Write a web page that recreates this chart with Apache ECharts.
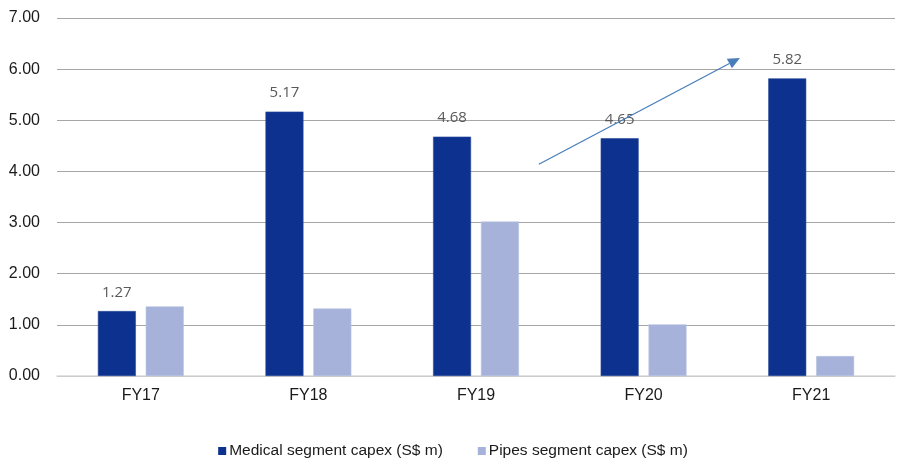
<!DOCTYPE html>
<html>
<head>
<meta charset="utf-8">
<script src="https://cdn.jsdelivr.net/npm/echarts@6/dist/echarts.min.js"></script>
<style>
  html, body { margin: 0; padding: 0; background: #fff; }
  #chart { width: 906px; height: 461px; }
</style>
</head>
<body>
<div id="chart"></div>
<script>
// Capex by segment, FY17–FY21
const years = ['FY17', 'FY18', 'FY19', 'FY20', 'FY21'];
const medicalCapex = [1.27, 5.17, 4.68, 4.65, 5.82];
const pipesCapex = [1.36, 1.32, 3.02, 1.01, 0.39];
const yTicks = [0, 1, 2, 3, 4, 5, 6, 7];

// Trend arrow: [category index, offset within band, value]
const arrowFrom = [2, 0.375, 4.14];
const arrowTo = [3, 0.575, 6.22];

const chart = echarts.init(document.getElementById('chart'));

chart.setOption({
  animation: false,
  grid: { left: 57, right: 11, top: 18, bottom: 85 },
  legend: {
    top: 438,
    left: 'center',
    itemWidth: 8,
    itemHeight: 8,
    itemGap: 35,
    icon: 'rect',
    itemStyle: { borderWidth: 0 },
    textStyle: { fontFamily: 'Liberation Sans', fontSize: 15.5, color: '#1a1a1a', padding: [0, 0, 0, -2] },
    data: ['Medical segment capex (S$ m)', 'Pipes segment capex (S$ m)']
  },
  xAxis: {
    type: 'category',
    data: years,
    axisLine: { lineStyle: { color: '#d9d9d9', width: 1.5 } },
    axisTick: { show: false },
    axisLabel: { fontFamily: 'Liberation Sans', fontSize: 16, color: '#1a1a1a', margin: 12 }
  },
  yAxis: {
    type: 'value',
    min: yTicks[0],
    max: yTicks[yTicks.length - 1],
    interval: 1,
    axisLine: { show: false },
    axisTick: { show: false },
    splitLine: { lineStyle: { color: '#a6a6a6', width: 1 } },
    axisLabel: {
      fontFamily: 'Liberation Sans', fontSize: 16, color: '#1a1a1a', margin: 17,
      formatter: v => v.toFixed(2)
    }
  },
  series: [
    {
      name: 'Medical segment capex (S$ m)',
      type: 'bar',
      data: medicalCapex,
      barWidth: 38,
      barGap: '26%',
      itemStyle: { color: '#0c318e', borderColor: '#2e4d9c', borderWidth: 0.6 },
      label: {
        show: true,
        position: 'top',
        distance: 11,
        fontFamily: 'Open Sans',
        fontSize: 15,
        color: '#595959',
        formatter: p => p.value.toFixed(2)
      }
    },
    {
      name: 'Pipes segment capex (S$ m)',
      type: 'bar',
      data: pipesCapex,
      barWidth: 38,
      itemStyle: { color: '#a6b2d9', borderColor: '#b9c3e2', borderWidth: 0.6 }
    }
  ]
});

// Place the trend arrow using the chart's own axes
function toPixel(pt) {
  const c0 = chart.convertToPixel({ xAxisIndex: 0 }, years[pt[0]]);
  const c1 = chart.convertToPixel({ xAxisIndex: 0 }, years[pt[0] + 1]);
  const x = c0 + (c1 - c0) * pt[1];
  const y = chart.convertToPixel({ yAxisIndex: 0 }, pt[2]);
  return [x, y];
}
const p0 = toPixel(arrowFrom);
const p1 = toPixel(arrowTo);
const dx = p1[0] - p0[0], dy = p1[1] - p0[1];
const len = Math.sqrt(dx * dx + dy * dy);
const ux = dx / len, uy = dy / len;
const headLen = 12, headHalf = 5.5;
const base = [p1[0] - ux * headLen, p1[1] - uy * headLen];
chart.setOption({
  graphic: [
    {
      type: 'line',
      shape: { x1: p0[0], y1: p0[1], x2: base[0], y2: base[1] },
      style: { stroke: '#4a7ebb', lineWidth: 1.3 },
      z: 100
    },
    {
      type: 'polygon',
      shape: {
        points: [
          p1,
          [base[0] - uy * headHalf, base[1] + ux * headHalf],
          [base[0] + uy * headHalf, base[1] - ux * headHalf]
        ]
      },
      style: { fill: '#4a7ebb' },
      z: 100
    }
  ]
});
</script>
</body>
</html>
